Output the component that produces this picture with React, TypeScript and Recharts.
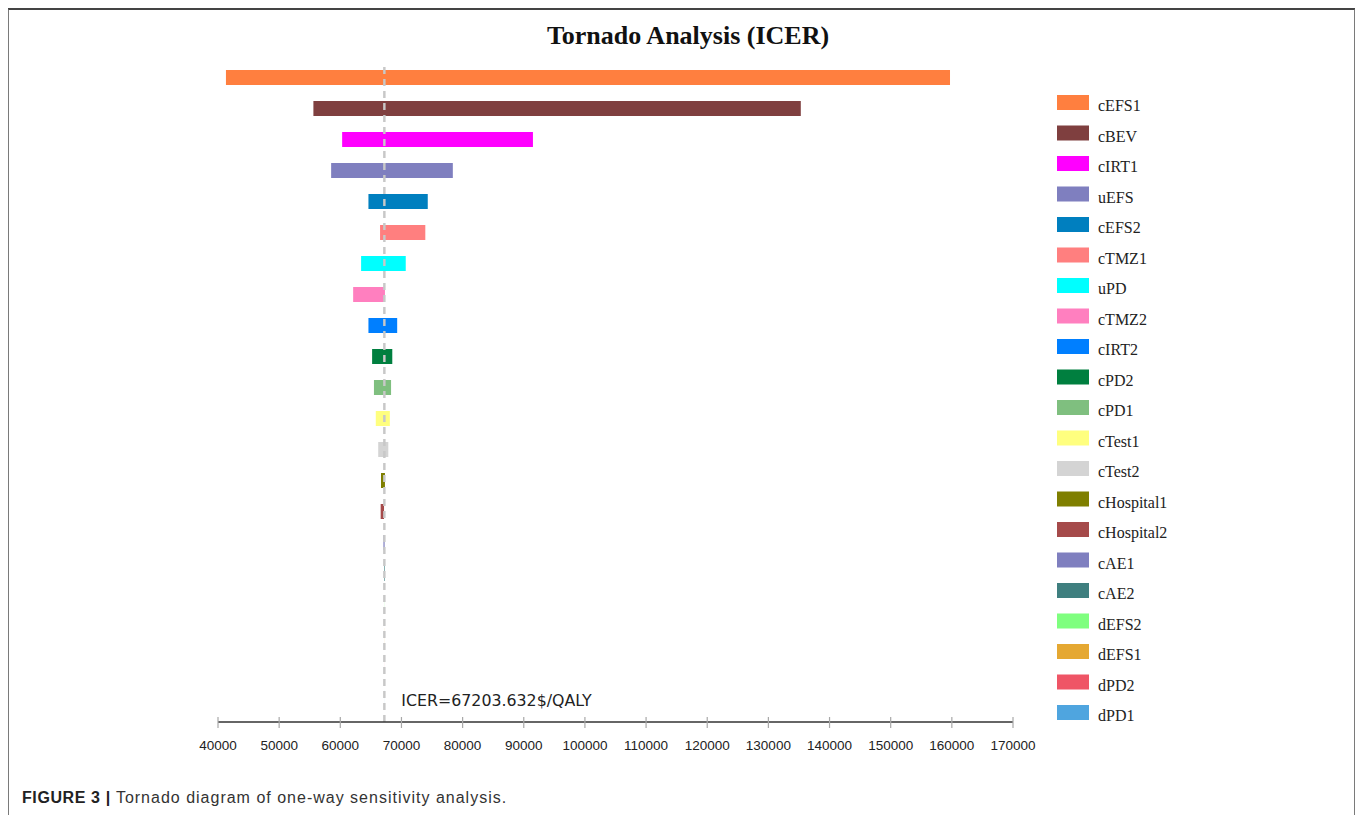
import React from 'react';
import { BarChart, Bar, XAxis, YAxis, Cell, ReferenceLine, Legend } from 'recharts';

const NAMES = ['cEFS1', 'cBEV', 'cIRT1', 'uEFS', 'cEFS2', 'cTMZ1', 'uPD', 'cTMZ2', 'cIRT2', 'cPD2', 'cPD1', 'cTest1', 'cTest2', 'cHospital1', 'cHospital2', 'cAE1', 'cAE2', 'dEFS2', 'dEFS1', 'dPD2', 'dPD1'];
const LOW = [41300, 55600, 60300, 58500, 64600, 66500, 63400, 62100, 64600, 65200, 65500, 65800, 66200, 66650, 66600, 67050, 67150, 67195, 67198, 67200, 67200];
const HIGH = [159700, 135300, 91500, 78400, 74300, 73900, 70700, 67300, 69300, 68500, 68300, 68100, 67850, 67300, 67150, 67250, 67250, 67212, 67208, 67206, 67206];
const TICKS = [40000, 50000, 60000, 70000, 80000, 90000, 100000, 110000, 120000, 130000, 140000, 150000, 160000, 170000];
const ICER = 67203.632;
const ICER_LABEL = 'ICER=67203.632$/QALY';
const TITLE = 'Tornado Analysis (ICER)';

const PALETTE = ['#ff7f3f', '#7f3f3f', '#ff00ff', '#7f7fbf', '#007fbf', '#ff7f7f', '#00ffff', '#ff7fbf', '#007fff', '#007f3f', '#7fbf7f', '#ffff7f', '#d4d4d4', '#7f7f00', '#a54a4a', '#7f7fbf', '#3f7f7f', '#7fff7f', '#e5a832', '#ef5566', '#4fa5df'];

const data = NAMES.map((name, i) => ({ name, range: [LOW[i], HIGH[i]] }));

const AxisTick = (props: any) => {
  const { x, y, payload } = props;
  return (
    <g>
      <line x1={x} y1={y - 5} x2={x} y2={y + 6} stroke="#a8a8a8" strokeWidth={1.2} />
      <text x={x} y={y + 28} textAnchor="middle" fontSize={13.5} fontFamily="Liberation Sans, Arial, sans-serif" fill="#222">
        {payload.value}
      </text>
    </g>
  );
};

const LegendContent = () => (
  <svg width={200} height={650} style={{ display: 'block' }}>
    {NAMES.map((n, i) => (
      <g key={n}>
        <rect x={0} y={7 + i * 30.5} width={32} height={15} fill={PALETTE[i]} />
        <text x={41} y={23 + i * 30.5} fontSize={16} fontFamily="Liberation Serif, Times New Roman, serif" fill="#222">
          {n}
        </text>
      </g>
    ))}
  </svg>
);

const IcerLabel = (props: any) => {
  const vb = props.viewBox || {};
  return (
    <text x={vb.x + 17} y={vb.y + vb.height - 16} fontSize={15.8} fontFamily="DejaVu Sans, sans-serif" fill="#222">
      {ICER_LABEL}
    </text>
  );
};

export default function App() {
  return (
    <div style={{ position: 'relative', width: 1349, height: 807 }}>
      <style>{'html,body{overflow:hidden}'}</style>
      <div
        style={{
          position: 'absolute',
          left: -1,
          top: 0,
          width: 1349,
          height: 830,
          boxSizing: 'border-box',
          borderTop: '2px solid #444',
          borderLeft: '2px solid #7a7a7a',
          borderRight: '2px solid #7a7a7a',
        }}
      />
      <div
        style={{
          position: 'absolute',
          left: 380,
          top: 15,
          width: 600,
          textAlign: 'center',
          fontFamily: 'Liberation Serif, Times New Roman, serif',
          fontWeight: 'bold',
          fontSize: 26,
          lineHeight: '26px',
          color: '#111',
        }}
      >
        {TITLE}
      </div>
      <div style={{ position: 'absolute', left: 0, top: 0 }}>
        <BarChart
          width={1340}
          height={760}
          data={data}
          layout="vertical"
          margin={{ top: 54, right: 335, bottom: 16, left: 210 }}
        >
          <XAxis
            type="number"
            domain={[40000, 170000]}
            ticks={TICKS}
            allowDataOverflow
            height={30}
            tickSize={0}
            tickMargin={0}
            tickLine={false}
            axisLine={{ stroke: '#333', strokeWidth: 1.5 }}
            tick={<AxisTick />}
            interval={0}
          />
          <YAxis type="category" dataKey="name" hide padding={{ top: 0, bottom: 9 }} />
          <ReferenceLine
            x={ICER}
            stroke="#c8c8c8"
            strokeWidth={2}
            strokeDasharray="7 5"
            label={IcerLabel}
            ifOverflow="visible"
          />
          <Bar dataKey="range" barSize={15} isAnimationActive={false}>
            {data.map((d, i) => (
              <Cell key={d.name} fill={PALETTE[i]} />
            ))}
          </Bar>
          <ReferenceLine x={ICER} stroke="#c8c8c8" strokeWidth={2} strokeDasharray="7 5" ifOverflow="visible" />
          <Legend
            layout="vertical"
            align="center"
            verticalAlign="middle"
            content={<LegendContent />}
            wrapperStyle={{ left: 1049, top: 80, width: 200, height: 650 }}
          />
        </BarChart>
      </div>
      <div
        style={{
          position: 'absolute',
          left: 14,
          top: 782,
          fontFamily: 'Liberation Sans, Arial, sans-serif',
          fontSize: 16,
          lineHeight: '16px',
          letterSpacing: 1.0,
          color: '#333',
          whiteSpace: 'nowrap',
        }}
      >
        <b style={{ color: '#222', letterSpacing: 0.6 }}>FIGURE 3 |</b> Tornado diagram of one-way sensitivity analysis.
      </div>
    </div>
  );
}
